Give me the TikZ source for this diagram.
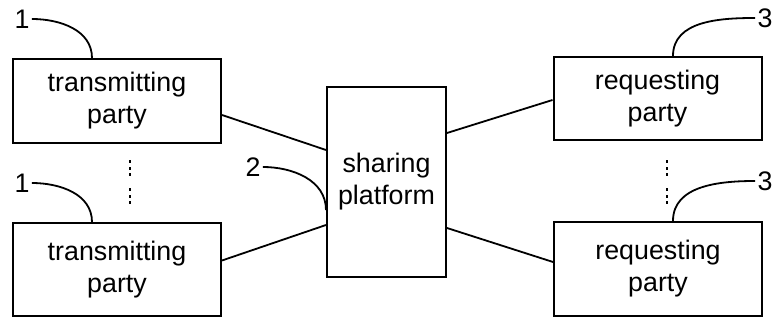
\documentclass[tikz,border=0pt]{standalone}
\usepackage{fontspec}
\setmainfont{Liberation Sans}
\usetikzlibrary{positioning}
\tikzset{
  party/.style={draw, line width=1pt, align=center, inner sep=0pt, minimum width=104pt},
  refno/.style={inner sep=1pt},
  leader/.style={line width=0.9pt},
  link/.style={line width=0.9pt}
}
\begin{document}
\begin{tikzpicture}[x=0.5pt,y=-0.5pt,font=\fontsize{13.4}{16}\selectfont]
  \useasboundingbox (0,0) rectangle (773,320);
  % boxes
  \node[party, minimum height=42pt] (tx1) at (117,101) {transmitting\\party};
  \node[party, minimum height=46.5pt] (tx2) at (117,269.5) {transmitting\\party};
  \node[party, minimum width=59.5pt, minimum height=95pt] (plat) at (386.5,182) {sharing\\platform};
  \node[party, minimum height=41.5pt] (rq1) at (657.5,98.5) {requesting\\party};
  \node[party, minimum height=47pt] (rq2) at (658,269) {requesting\\party};
  % reference numbers
  \node[refno] (n1a) at (22,19) {1};
  \node[refno] (n1b) at (22,183) {1};
  \node[refno] (n2) at (253,167) {2};
  \node[refno] (n3a) at (765,18) {3};
  \node[refno] (n3b) at (765,181) {3};
  \draw[leader] (n1a.east) to[out=0,in=90] ([shift={(-25,0)}]tx1.north);
  \draw[leader] (n1b.east) to[out=0,in=90] ([shift={(-25,0)}]tx2.north);
  \draw[leader] (n2.east) to[out=0,in=90] ([shift={(0,28)}]plat.west);
  \draw[leader] (n3a.west) to[out=180,in=90] ([shift={(15.5,0)}]rq1.north);
  \draw[leader] (n3b.west) to[out=180,in=90] ([shift={(15,0)}]rq2.north);
  % links
  \draw[link] ([shift={(0,14)}]tx1.east) -- ([shift={(0,-32)}]plat.west);
  \draw[link] ([shift={(0,-9)}]tx2.east) -- ([shift={(0,43)}]plat.west);
  \draw[link] ([shift={(0,-49)}]plat.east) -- ([shift={(0,1.5)}]rq1.west);
  \draw[link] ([shift={(0,46)}]plat.east) -- ([shift={(0,-7)}]rq2.west);
  % more parties (dots)
  \foreach \y in {162,168.5,175,190,196.5,203} {
    \fill (128.8,\y-1.5) rectangle (131.2,\y+1.5);
    \fill (665.8,\y-1.5) rectangle (668.2,\y+1.5);
  }
\end{tikzpicture}
\end{document}
